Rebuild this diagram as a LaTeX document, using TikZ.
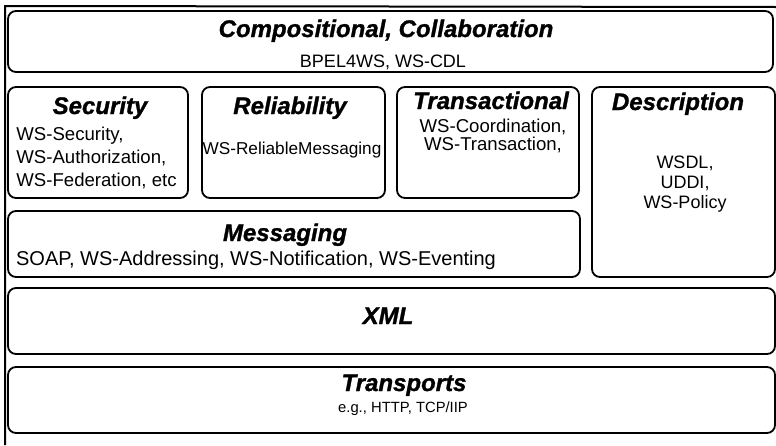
\documentclass[tikz,border=0pt]{standalone}
\usepackage{fontspec}
\setmainfont{Liberation Sans}
\newfontface\titleface{Liberation Sans Bold Italic}[FakeBold=1.2]
\usepackage{tikz}
\usetikzlibrary{positioning}

\begin{document}
\begin{tikzpicture}[
  x=0.5pt, y=-0.5pt,
  layer/.style={rectangle, draw, line width=0.9pt, rounded corners=4pt, inner sep=0pt},
  title/.style={anchor=base, inner sep=0pt, font=\titleface\fontsize{12}{14}\selectfont},
  body/.style={anchor=north, inner sep=0pt, align=center, font=\fontsize{9.3}{11.5}\selectfont}
]
\useasboundingbox (0,0) rectangle (776,445);

%% Outer frame (top and left edges only)
\draw[line width=1pt] (5,445) -- (5,6) -- (776,7);

%% Layers - fixed coordinates
\node[layer, minimum width=382.5pt, minimum height=30.5pt] at (390.5,41.5) (comp) {};
\node[layer, minimum width=90pt,    minimum height=55.5pt] at (98,142.5)   (sec)   {};
\node[layer, minimum width=91.5pt,  minimum height=55.5pt] at (293.5,142.5) (rel)  {};
\node[layer, minimum width=91pt,    minimum height=55.5pt] at (488,142.5)  (trans) {};
\node[layer, minimum width=91.5pt,  minimum height=95pt]   at (683.5,182)  (desc)  {};
\node[layer, minimum width=286pt,   minimum height=33pt]   at (294,244)    (msg)   {};
\node[layer, minimum width=383.5pt, minimum height=33pt]   at (391.5,321)  (xml)   {};
\node[layer, minimum width=383.5pt, minimum height=33pt]   at (391.5,400)  (trp)   {};

%% Titles
\node[title] at (386,37)  (compT)  {Compositional, Collaboration};
\node[title] at (100,114) (secT)   {Security};
\node[title] at (290,114) (relT)   {Reliability};
\node[title] at (491,109) (transT) {Transactional};
\node[title] at (678,110) (descT)  {Description};
\node[title] at (285,241) (msgT)   {Messaging};
\node[title] at (388,324) (xmlT)   {XML};
\node[title] at (404,391) (trpT)   {Transports};

%% Standards in each layer
\node[body, font=\fontsize{9}{11}\selectfont] at (383,55) (compB) {BPEL4WS, WS-CDL};
\node[body, anchor=north west, align=left] at (16,127) (secB)
  {WS-Security,\\WS-Authorization,\\WS-Federation, etc};
\node[body, font=\fontsize{8.6}{10}\selectfont] at (292,142) (relB) {WS-ReliableMessaging};
\node[body, font=\fontsize{9.3}{9}\selectfont] at (493,119) (transB)
  {WS-Coordination,\\WS-Transaction,};
\node[body, font=\fontsize{9}{10}\selectfont] at (685,156) (descB) {WSDL,\\UDDI,\\WS-Policy};
\node[body, font=\fontsize{10}{12}\selectfont] at (256,251) (msgB)
  {SOAP, WS-Addressing, WS-Notification, WS-Eventing};
\node[body, font=\fontsize{7.4}{9}\selectfont] at (403,401) (trpB) {e.g., HTTP, TCP/IIP};
\end{tikzpicture}
\end{document}
